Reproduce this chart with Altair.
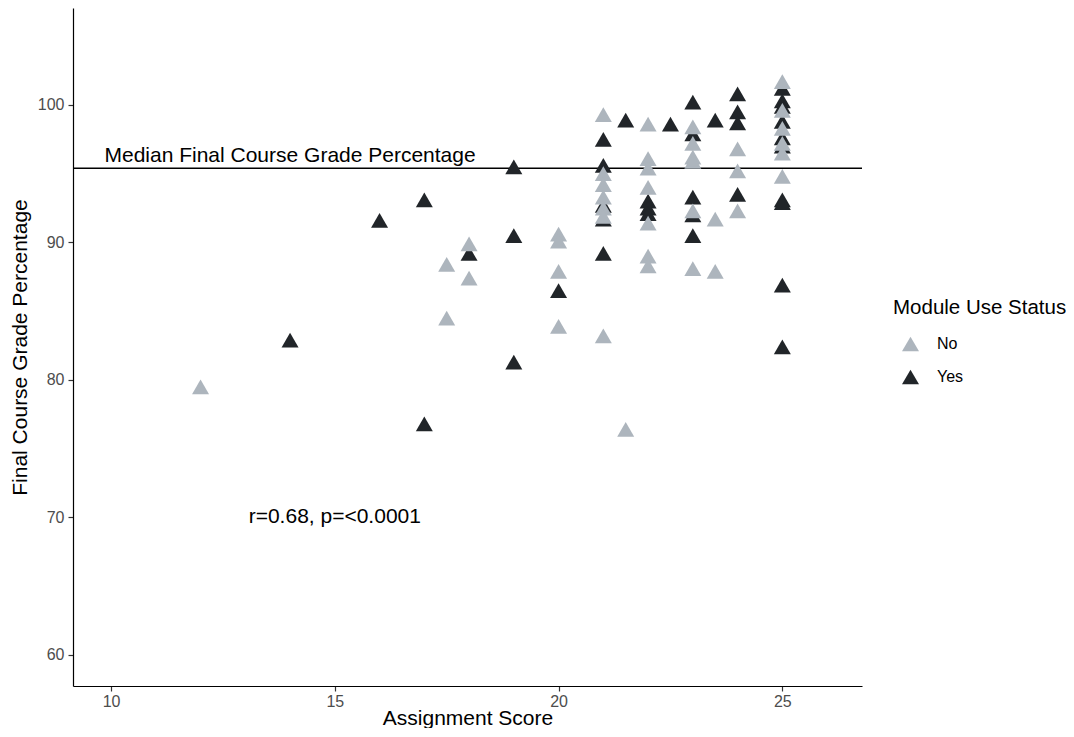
import altair as alt
import pandas as pd

# ---- data ----
status_levels = ["No", "Yes"]
status_colors = ["#ADB5BD", "#212529"]

no_score = [12, 17.5, 17.5, 18, 18, 20, 20, 20, 20,
            21, 21, 21, 21, 21, 21, 21,
            21.5,
            22, 22, 22, 22, 22, 22, 22,
            23, 23, 23, 23, 23, 23,
            23.5, 23.5,
            24, 24, 24,
            25, 25, 25, 25, 25, 25]
no_grade = [79.5, 88.4, 84.5, 89.9, 87.4, 90.6, 90.1, 87.9, 83.9,
            99.3, 95.0, 94.2, 93.3, 92.5, 91.9, 83.2,
            76.4,
            98.6, 96.1, 95.4, 94.0, 91.4, 89.0, 88.3,
            98.4, 97.2, 96.2, 95.9, 92.3, 88.1,
            91.7, 87.9,
            96.8, 95.2, 92.3,
            101.7, 99.6, 98.3, 97.2, 96.5, 94.8]

yes_score = [14, 16, 17, 17, 18, 19, 19, 19, 20,
             21, 21, 21, 21, 21,
             21.5,
             22, 22, 22,
             22.5,
             23, 23, 23, 23, 23,
             23.5,
             24, 24, 24, 24,
             25, 25, 25, 25, 25, 25, 25, 25, 25, 25]
yes_grade = [82.9, 91.6, 93.1, 76.8, 89.2, 95.5, 90.5, 81.3, 86.5,
             97.5, 95.6, 92.7, 91.7, 89.2,
             98.9,
             93.0, 92.5, 92.1,
             98.6,
             100.2, 97.9, 93.3, 92.0, 90.5,
             98.9,
             100.8, 99.5, 98.7, 93.5,
             101.2, 100.3, 99.9, 98.8, 97.6, 97.0, 93.1, 92.9, 86.9, 82.4]

median_grade = [95.4]

note_labels = ["Median Final Course Grade Percentage", "r=0.68, p=<0.0001"]
note_x = [14, 15]
note_y = [96.3, 70]

x_ticks = [10, 15, 20, 25]
y_ticks = [60, 70, 80, 90, 100]

XF = "Assignment Score"
YF = "Final Course Grade Percentage"
CF = "Module Use Status"

df = pd.DataFrame({
    XF: yes_score + no_score,
    YF: yes_grade + no_grade,
    CF: ["Yes"] * len(yes_score) + ["No"] * len(no_score),
})
med_df = pd.DataFrame({YF: median_grade})
note_df = pd.DataFrame({XF: note_x, YF: note_y, "label": note_labels})

FONT = "Liberation Sans"
x_scale = alt.Scale(domain=[9.15, 26.78], nice=False, zero=False)
y_scale = alt.Scale(domain=[57.745, 107.05], nice=False, zero=False)

points = alt.Chart(df).mark_point(
    shape="triangle-up", filled=True, size=289, opacity=1, strokeWidth=0
).encode(
    x=alt.X(f"{XF}:Q", scale=x_scale,
            axis=alt.Axis(values=x_ticks, title=XF, labelPadding=2,
                          titleY=38, titleBaseline="alphabetic")),
    y=alt.Y(f"{YF}:Q", scale=y_scale,
            axis=alt.Axis(values=y_ticks, title=YF, labelPadding=4,
                          titleX=-53, titleY=339, titleAngle=270,
                          titleAlign="center", titleBaseline="middle")),
    color=alt.Color(f"{CF}:N",
                    scale=alt.Scale(domain=status_levels, range=status_colors),
                    legend=alt.Legend(
                        title=CF, orient="none", legendX=820, legendY=290,
                        symbolType="triangle-up", symbolSize=289,
                        symbolOffset=9, labelOffset=18, rowPadding=16,
                        titlePadding=17, padding=0,
                        titleFontSize=20.5, titleFontWeight="normal",
                        titleColor="black", titleFont=FONT,
                        labelFontSize=16, labelColor="black", labelFont=FONT,
                        symbolStrokeWidth=0, symbolOpacity=1)),
)

rule = alt.Chart(med_df).mark_rule(color="black", strokeWidth=1.5).encode(
    y=alt.Y(f"{YF}:Q", scale=y_scale)
)

notes = alt.Chart(note_df).mark_text(
    fontSize=21, font=FONT, color="black", align="center", baseline="middle"
).encode(
    x=alt.X(f"{XF}:Q", scale=x_scale),
    y=alt.Y(f"{YF}:Q", scale=y_scale),
    text="label:N",
)

chart = alt.layer(rule, points, notes).properties(
    width=789, height=678,
    padding={"left": 65, "top": 0, "right": 204, "bottom": 42},
    autosize=alt.AutoSizeParams(type="none"),
).configure(
    font=FONT, view=alt.ViewConfig(stroke=None)
).configure_axis(
    grid=False,
    domainColor="black", domainWidth=1.2,
    tickColor="#333333", tickWidth=1.2, tickSize=5,
    labelFont=FONT, labelFontSize=16, labelColor="#4D4D4D",
    titleFont=FONT, titleFontSize=21, titleFontWeight="normal", titleColor="black",
)

chart.save("out.html", embed_options={"renderer": "svg", "actions": False})
